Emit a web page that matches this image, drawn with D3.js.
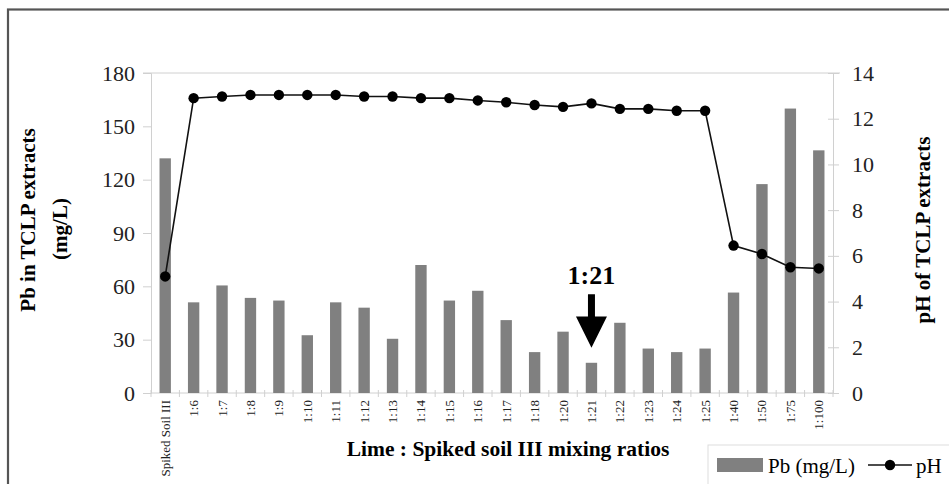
<!DOCTYPE html>
<html>
<head>
<meta charset="utf-8">
<script src="https://cdn.jsdelivr.net/npm/d3@7"></script>
<style>
  body { margin: 0; background: #fff; }
  text { font-family: "Liberation Serif", "Times New Roman", serif; }
</style>
</head>
<body>
<div id="chart"></div>
<script>
// mixing ratios along the bottom
var categories = ["Spiked Soil III", "1:6", "1:7", "1:8", "1:9", "1:10", "1:11", "1:12", "1:13",
  "1:14", "1:15", "1:16", "1:17", "1:18", "1:20", "1:21", "1:22", "1:23", "1:24", "1:25",
  "1:40", "1:50", "1:75", "1:100"];
// Pb in TCLP extracts (mg/L)
var pbValues = [132, 51, 60.5, 53.5, 52, 32.5, 51, 48, 30.5, 72, 52, 57.5, 41, 23,
  34.5, 17, 39.5, 25, 23, 25, 56.5, 117.5, 160, 136.5];
// pH of TCLP extracts
var phValues = [5.1, 12.9, 12.97, 13.04, 13.04, 13.04, 13.04, 12.97, 12.97, 12.9, 12.9, 12.8,
  12.72, 12.6, 12.52, 12.67, 12.43, 12.43, 12.35, 12.35, 6.45, 6.08, 5.5, 5.45];
var leftTicks = [0, 30, 60, 90, 120, 150, 180];
var rightTicks = [0, 2, 4, 6, 8, 10, 12, 14];

var W = 949, H = 484;
var plot = {left: 151, right: 833, top: 73, bottom: 393};

var svg = d3.select("#chart")
  .append("svg")
    .attr("width", W)
    .attr("height", H);

// outer frame
svg.append("rect")
  .attr("x", 8).attr("y", 9.5)
  .attr("width", 960).attr("height", 500)
  .attr("fill", "none")
  .attr("stroke", "#555")
  .attr("stroke-width", 2.2);

var x = d3.scaleBand()
  .domain(categories)
  .range([plot.left, plot.right])
  .paddingInner(0.6)
  .paddingOuter(0.3);

var yL = d3.scaleLinear().domain([0, 180]).range([plot.bottom, plot.top]);
var yR = d3.scaleLinear().domain([0, 14]).range([plot.bottom, plot.top]);

var axisColor = "#d0d0d0";

// top edge of plot
svg.append("line")
  .attr("x1", plot.left - 8).attr("x2", plot.right + 7)
  .attr("y1", plot.top).attr("y2", plot.top)
  .attr("stroke", axisColor);

// left axis
var gl = svg.append("g")
  .attr("transform", "translate(" + plot.left + ",0)")
  .call(d3.axisLeft(yL).tickValues(leftTicks).tickSize(8).tickPadding(8));
// right axis
var gr = svg.append("g")
  .attr("transform", "translate(" + plot.right + ",0)")
  .call(d3.axisRight(yR).tickValues(rightTicks).tickSize(6).tickPadding(13));

[gl, gr].forEach(function(g){
  g.select(".domain").attr("stroke", axisColor);
  g.selectAll(".tick line").attr("stroke", axisColor);
  g.selectAll(".tick text")
    .attr("fill", "#222")
    .style("font-size", "22px")
    .style("font-family", "'Liberation Serif', serif");
});
gr.selectAll(".tick line").attr("x1", -5);

// bottom axis line and boundary ticks
svg.append("line")
  .attr("x1", plot.left).attr("x2", plot.right)
  .attr("y1", plot.bottom).attr("y2", plot.bottom)
  .attr("stroke", axisColor);

var step = x.step();
var bounds = categories.map(function(c){ return x(c) - (step - x.bandwidth()) / 2; });
bounds.push(plot.right);
svg.append("g").selectAll("line")
  .data(bounds)
  .enter().append("line")
    .attr("x1", function(d){ return d; })
    .attr("x2", function(d){ return d; })
    .attr("y1", plot.bottom - 3)
    .attr("y2", plot.bottom + 4)
    .attr("stroke", axisColor);

// category labels
svg.append("g").selectAll("text")
  .data(categories)
  .enter().append("text")
    .attr("transform", function(d){
      return "translate(" + (x(d) + x.bandwidth() / 2 + 4.5) + "," + (plot.bottom + 7) + ") rotate(-90)";
    })
    .attr("text-anchor", "end")
    .attr("font-size", "13px")
    .attr("fill", "#222")
    .text(function(d){ return d; });

// bars
svg.append("g").selectAll("rect")
  .data(pbValues)
  .enter().append("rect")
    .attr("x", function(d, i){ return x(categories[i]); })
    .attr("y", function(d){ return yL(d); })
    .attr("width", x.bandwidth())
    .attr("height", function(d){ return plot.bottom - yL(d); })
    .attr("fill", "#808080");

// pH line
var line = d3.line()
  .x(function(d, i){ return x(categories[i]) + x.bandwidth() / 2; })
  .y(function(d){ return yR(d); });

svg.append("path")
  .datum(phValues)
  .attr("d", line)
  .attr("fill", "none")
  .attr("stroke", "#111")
  .attr("stroke-width", 1.6);

svg.append("g").selectAll("circle")
  .data(phValues)
  .enter().append("circle")
    .attr("cx", function(d, i){ return x(categories[i]) + x.bandwidth() / 2; })
    .attr("cy", function(d){ return yR(d); })
    .attr("r", 5.2)
    .attr("fill", "#000");

// axis titles
svg.append("text")
  .attr("transform", "translate(35,220) rotate(-90)")
  .attr("text-anchor", "middle")
  .attr("font-size", "21px")
  .attr("font-weight", "bold")
  .text("Pb in TCLP extracts");
svg.append("text")
  .attr("transform", "translate(67,229) rotate(-90)")
  .attr("text-anchor", "middle")
  .attr("font-size", "21px")
  .attr("font-weight", "bold")
  .text("(mg/L)");
svg.append("text")
  .attr("transform", "translate(930,230) rotate(-90)")
  .attr("text-anchor", "middle")
  .attr("font-size", "21px")
  .attr("font-weight", "bold")
  .text("pH of TCLP extracts");
svg.append("text")
  .attr("x", 508).attr("y", 456)
  .attr("text-anchor", "middle")
  .attr("font-size", "21.5px")
  .attr("font-weight", "bold")
  .text("Lime : Spiked soil III mixing ratios");

// 1:21 annotation
var ax = x("1:21") + x.bandwidth() / 2;
svg.append("text")
  .attr("x", ax).attr("y", yL(61.5))
  .attr("text-anchor", "middle")
  .attr("font-size", "26px")
  .attr("font-weight", "bold")
  .text("1:21");
var sTop = yL(55.5), sBot = yL(43), tip = yL(25.5);
svg.append("path")
  .attr("d", "M" + (ax - 3.5) + "," + sTop + "L" + (ax + 3.5) + "," + sTop +
    "L" + (ax + 3.5) + "," + sBot + "L" + (ax + 15.5) + "," + sBot +
    "L" + ax + "," + tip + "L" + (ax - 15.5) + "," + sBot +
    "L" + (ax - 3.5) + "," + sBot + "Z")
  .attr("fill", "#000");

// legend
svg.append("rect")
  .attr("x", 708).attr("y", 445)
  .attr("width", 260).attr("height", 60)
  .attr("fill", "#fff")
  .attr("stroke", "#ddd");
svg.append("rect")
  .attr("x", 717).attr("y", 458)
  .attr("width", 46).attr("height", 14)
  .attr("fill", "#808080");
svg.append("text")
  .attr("x", 768).attr("y", 473)
  .attr("font-size", "21px")
  .text("Pb (mg/L)");
svg.append("line")
  .attr("x1", 868).attr("x2", 912)
  .attr("y1", 465).attr("y2", 465)
  .attr("stroke", "#111").attr("stroke-width", 1.6);
svg.append("circle")
  .attr("cx", 890).attr("cy", 465).attr("r", 5.2).attr("fill", "#000");
svg.append("text")
  .attr("x", 916).attr("y", 473)
  .attr("font-size", "21px")
  .text("pH");
</script>
</body>
</html>
